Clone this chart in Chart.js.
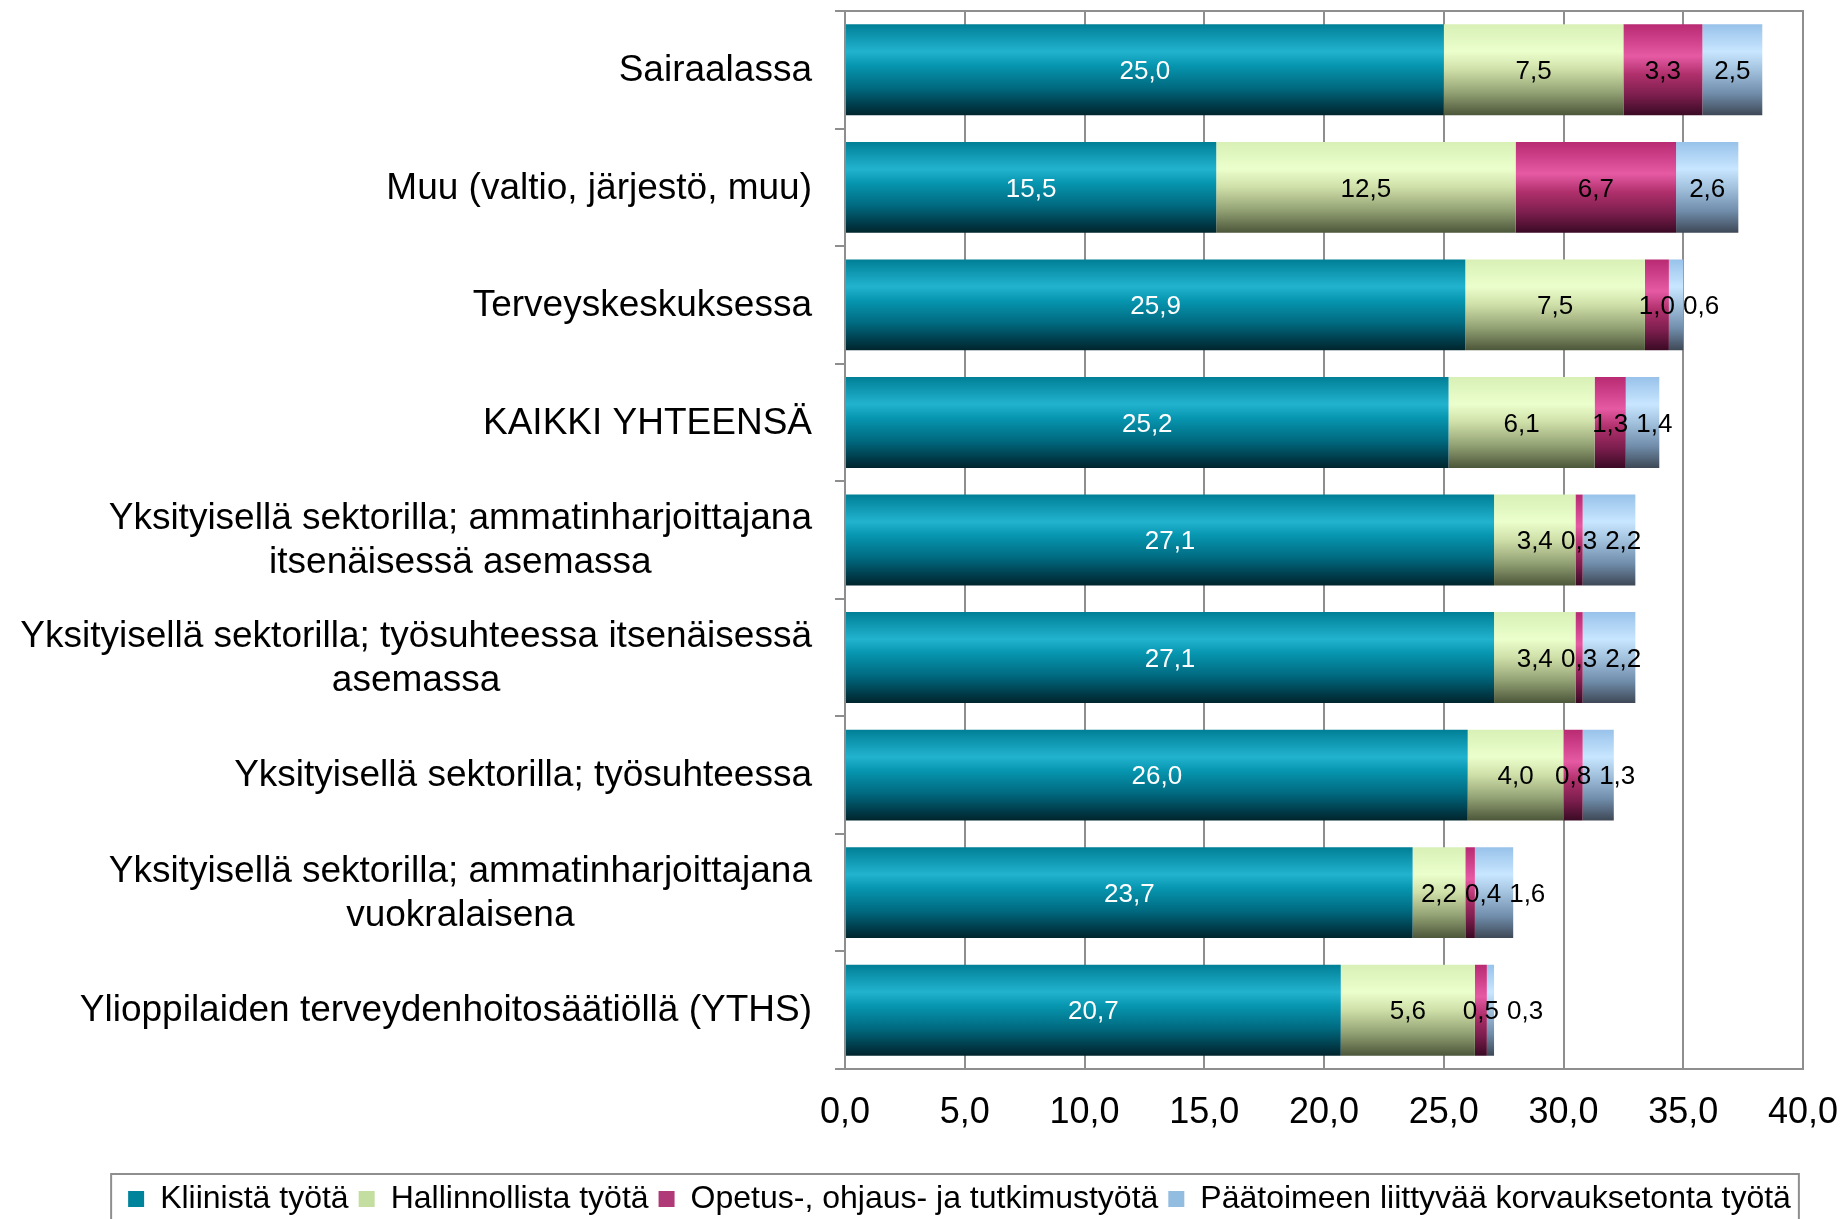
<!DOCTYPE html>
<html>
<head>
<meta charset="utf-8">
<script src="https://cdn.jsdelivr.net/npm/chart.js@4.4.1/dist/chart.umd.min.js"></script>
<style>
  html, body { margin: 0; padding: 0; background: #fff; overflow: hidden; }
  #wrap { width: 1841px; height: 1225px; position: relative; }
</style>
</head>
<body>
<div id="wrap"><canvas id="chart"></canvas></div>
<script>
// --- Data ---
const categories = [
    'Sairaalassa',
    'Muu (valtio, järjestö, muu)',
    'Terveyskeskuksessa',
    'KAIKKI YHTEENSÄ',
    ['Yksityisellä sektorilla; ammatinharjoittajana', 'itsenäisessä asemassa'],
    ['Yksityisellä sektorilla; työsuhteessa itsenäisessä', 'asemassa'],
    'Yksityisellä sektorilla; työsuhteessa',
    ['Yksityisellä sektorilla; ammatinharjoittajana', 'vuokralaisena'],
    'Ylioppilaiden terveydenhoitosäätiöllä (YTHS)'
];
const seriesNames = [
    'Kliinistä työtä',
    'Hallinnollista työtä',
    'Opetus-, ohjaus- ja tutkimustyötä',
    'Päätoimeen liittyvää korvauksetonta työtä'
];
const kliininen      = [25.0, 15.5, 25.9, 25.2, 27.1, 27.1, 26.0, 23.7, 20.7];
const hallinnollinen = [7.5, 12.5, 7.5, 6.1, 3.4, 3.4, 4.0, 2.2, 5.6];
const opetus         = [3.3, 6.7, 1.0, 1.3, 0.3, 0.3, 0.8, 0.4, 0.5];
const korvaukseton   = [2.5, 2.6, 0.6, 1.4, 2.2, 2.2, 1.3, 1.6, 0.3];
const xTicks = [0, 5, 10, 15, 20, 25, 30, 35, 40];

// --- Styles ---
const FONT = "'Liberation Sans', Arial, sans-serif";
const BAR_PCT = 0.773;
const GRID = '#8e8e8e';
const PAD_LEFT = 116;
const legendColors = ['#00849c', '#c3dea0', '#b03a78', '#93bde0'];
const labelColors = ['#ffffff', '#000000', '#000000', '#000000'];
const gradients = [
    [[0, '#007f96'], [0.3, '#22b3cf'], [0.45, '#0796b0'], [0.7, '#006a80'], [0.9, '#003a48'], [1, '#00252c']],
    [[0, '#d8f0b6'], [0.3, '#ebffcc'], [0.5, '#cfdfa8'], [0.75, '#93a274'], [1, '#4c563a']],
    [[0, '#b82a72'], [0.35, '#e65aa4'], [0.55, '#b0306c'], [0.78, '#7c1e4e'], [1, '#3a0a24']],
    [[0, '#98c2ea'], [0.3, '#c8e6ff'], [0.5, '#a3c2de'], [0.75, '#7290ae'], [1, '#3e4856']]
];

Chart.defaults.font.family = FONT;
Chart.defaults.color = '#000';

function fmt(v) {
    return v.toFixed(1).replace('.', ',');
}

// vertical gradient per bar, like the glossy bars of the original
function barFill(s) {
    const stops = gradients[s];
    return function(ctx) {
        const chart = ctx.chart;
        const yScale = chart.scales.y;
        if (ctx.type !== 'data' || !yScale || !chart.chartArea) return legendColors[s];
        const yc = yScale.getPixelForValue(ctx.dataIndex);
        const half = (yScale.height / categories.length) * BAR_PCT / 2;
        const g = chart.ctx.createLinearGradient(0, yc - half, 0, yc + half);
        stops.forEach(st => g.addColorStop(st[0], st[1]));
        return g;
    };
}

// frame round the plot area
const framePlugin = {
    id: 'frame',
    beforeDatasetsDraw(chart) {
        const a = chart.chartArea;
        const c = chart.ctx;
        c.save();
        c.strokeStyle = GRID;
        c.lineWidth = 2;
        c.strokeRect(a.left, a.top, a.right - a.left, a.bottom - a.top);
        c.restore();
    }
};

// category labels: right aligned block, lines centred inside it
const yLabelPlugin = {
    id: 'yLabels',
    afterDraw(chart) {
        const c = chart.ctx;
        const yScale = chart.scales.y;
        const right = chart.chartArea.left - 33;
        const lh = 44;
        c.save();
        c.font = '37px ' + FONT;
        c.fillStyle = '#000';
        c.textAlign = 'center';
        c.textBaseline = 'middle';
        categories.forEach((lab, i) => {
            const lines = Array.isArray(lab) ? lab : [lab];
            const w = Math.max(...lines.map(l => c.measureText(l).width));
            const cx = right - w / 2;
            const yc = yScale.getPixelForValue(i);
            lines.forEach((l, k) => {
                c.fillText(l, cx, yc + 1 + (k - (lines.length - 1) / 2) * lh);
            });
        });
        c.restore();
    }
};

// value labels in the middle of each segment, pushed right when they collide
const valueLabelPlugin = {
    id: 'valueLabels',
    afterDatasetsDraw(chart) {
        const c = chart.ctx;
        c.save();
        c.font = '26px ' + FONT;
        c.textAlign = 'center';
        c.textBaseline = 'middle';
        categories.forEach((_, i) => {
            let prevRight = -Infinity;
            chart.data.datasets.forEach((ds, d) => {
                const el = chart.getDatasetMeta(d).data[i];
                const txt = fmt(ds.data[i]);
                const w = c.measureText(txt).width;
                let x = (el.x + el.base) / 2;
                if (x - w / 2 < prevRight + 8) x = prevRight + 8 + w / 2;
                prevRight = x + w / 2;
                c.fillStyle = labelColors[d];
                c.fillText(txt, x, el.y + 2);
            });
        });
        c.restore();
    }
};

// box round the legend
const legendBoxPlugin = {
    id: 'legendBox',
    afterDraw(chart) {
        const lg = chart.legend;
        if (!lg || !lg.legendHitBoxes || !lg.legendHitBoxes.length) return;
        const hb = lg.legendHitBoxes;
        const last = hb[hb.length - 1];
        const left = hb[0].left - 17;
        const right = last.left + last.width + 8;
        const c = chart.ctx;
        c.save();
        c.strokeStyle = GRID;
        c.lineWidth = 2;
        c.strokeRect(left, lg.top + 1, right - left, lg.height + 30);
        c.restore();
    }
};

const seriesData = [kliininen, hallinnollinen, opetus, korvaukseton];

new Chart(document.getElementById('chart').getContext('2d'), {
    type: 'bar',
    data: {
        labels: categories,
        datasets: seriesData.map((arr, s) => ({
            label: seriesNames[s],
            data: arr,
            backgroundColor: barFill(s),
            borderWidth: 0,
            barPercentage: BAR_PCT,
            categoryPercentage: 1
        }))
    },
    options: {
        indexAxis: 'y',
        responsive: true,
        maintainAspectRatio: false,
        animation: false,
        layout: { padding: { left: PAD_LEFT, right: 38, top: 11, bottom: 0 } },
        plugins: {
            tooltip: { enabled: false },
            legend: {
                position: 'bottom',
                labels: {
                    font: { size: 32, family: FONT },
                    color: '#000',
                    boxWidth: 16,
                    boxHeight: 16,
                    padding: 10,
                    generateLabels(chart) {
                        const items = Chart.defaults.plugins.legend.labels.generateLabels(chart);
                        items.forEach((it, i) => {
                            it.fillStyle = legendColors[i];
                            it.strokeStyle = legendColors[i];
                            it.lineWidth = 0;
                        });
                        return items;
                    }
                }
            }
        },
        scales: {
            x: {
                stacked: true,
                min: 0,
                max: 40,
                afterBuildTicks(scale) {
                    scale.ticks = xTicks.map(v => ({ value: v }));
                },
                afterFit(scale) {
                    scale.height = 104;
                    scale.paddingLeft = 0;
                    scale.paddingRight = 0;
                },
                grid: { color: GRID, lineWidth: 2, drawTicks: false },
                border: { color: GRID, width: 2 },
                ticks: {
                    font: { size: 36, family: FONT },
                    color: '#000',
                    padding: 22,
                    maxRotation: 0,
                    callback: v => fmt(v)
                }
            },
            y: {
                stacked: true,
                afterFit(scale) { scale.width = 845 - PAD_LEFT; },
                grid: {
                    offset: true,
                    drawOnChartArea: false,
                    drawTicks: true,
                    tickLength: 10,
                    color: GRID,
                    lineWidth: 2
                },
                border: { color: GRID, width: 2 },
                ticks: { display: false, autoSkip: false }
            }
        }
    },
    plugins: [framePlugin, valueLabelPlugin, yLabelPlugin, legendBoxPlugin]
});
</script>
</body>
</html>
